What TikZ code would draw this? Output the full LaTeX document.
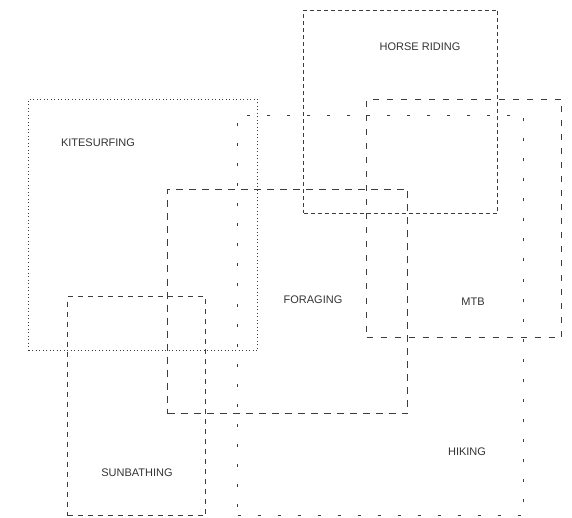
\documentclass[tikz,border=0pt]{standalone}
\usepackage{fontspec}
\setmainfont{Liberation Sans}
\definecolor{linegrey}{HTML}{3C3C3C}
\definecolor{textgrey}{HTML}{333333}
\tikzset{
    zone/.style={draw=linegrey, rectangle, line width=1pt, inner sep=0pt, anchor=north west},
    tag/.style={text=textgrey, font=\fontsize{11}{13}\selectfont, inner sep=0pt}
}
\begin{document}
\begin{tikzpicture}[x=1pt, y=-1pt]
        \useasboundingbox (0,0) rectangle (572,518);

        % Zone delle attivita (rettangoli tratteggiati)
        \node[zone, dash pattern=on 4pt off 3pt, minimum width=194pt, minimum height=203pt] (horse) at (303,10) {};
        \node[zone, dash pattern=on 1pt off 2.5pt, minimum width=229pt, minimum height=251pt] (kite) at (28,99) {};
        \node[zone, dash pattern=on 6pt off 8pt, minimum width=195pt, minimum height=238pt] (mtb) at (366,99) {};
        \node[zone, dash pattern=on 3pt off 17pt, minimum width=286pt, minimum height=400pt] (hiking) at (237,115) {};
        \node[zone, dash pattern=on 7pt off 6pt, minimum width=240pt, minimum height=224pt] (foraging) at (167,189) {};
        \node[zone, dash pattern=on 5pt off 5pt, minimum width=138pt, minimum height=219pt] (sun) at (67,296) {};

        % Etichette
        \node[tag] (horse label) at (420,47) {HORSE RIDING};
        \node[tag] (kite label) at (98,143) {KITESURFING};
        \node[tag] (foraging label) at (313,300) {FORAGING};
        \node[tag] (mtb label) at (473,302) {MTB};
        \node[tag] (hiking label) at (467,452) {HIKING};
        \node[tag] (sun label) at (137,473) {SUNBATHING};
    \end{tikzpicture}
\end{document}
